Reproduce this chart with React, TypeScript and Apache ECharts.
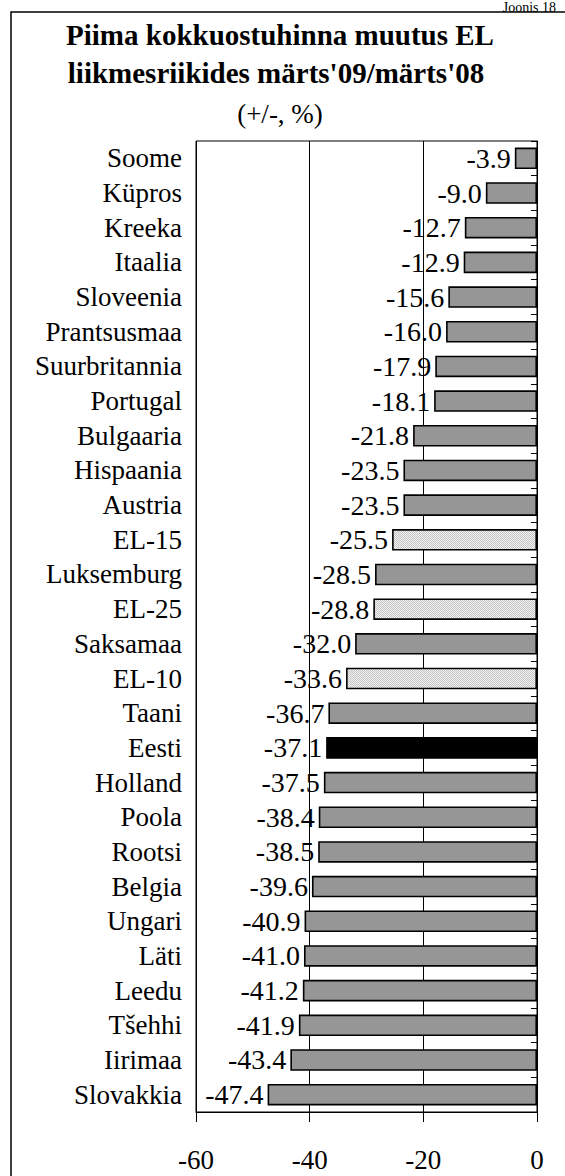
import React, { useEffect, useRef } from "react";
import * as echarts from "echarts";

const categories = [
  "Soome", "Küpros", "Kreeka", "Itaalia", "Sloveenia", "Prantsusmaa",
  "Suurbritannia", "Portugal", "Bulgaaria", "Hispaania", "Austria", "EL-15",
  "Luksemburg", "EL-25", "Saksamaa", "EL-10", "Taani", "Eesti", "Holland",
  "Poola", "Rootsi", "Belgia", "Ungari", "Läti", "Leedu", "Tšehhi",
  "Iirimaa", "Slovakkia",
];
const values = [
  -3.9, -9.0, -12.7, -12.9, -15.6, -16.0, -17.9, -18.1, -21.8, -23.5, -23.5,
  -25.5, -28.5, -28.8, -32.0, -33.6, -36.7, -37.1, -37.5, -38.4, -38.5,
  -39.6, -40.9, -41.0, -41.2, -41.9, -43.4, -47.4,
];
const aggregates = ["EL-15", "EL-25", "EL-10"];
const highlighted = ["Eesti"];
const xMin = -60;
const xMax = 0;
const xStep = 20;

const titleLines = ["Piima kokkuostuhinna muutus EL", "liikmesriikides märts'09/märts'08"];
const subtitle = "(+/-, %)";
const figureLabel = "Joonis 18";

const FONT = '"Liberation Serif", "Times New Roman", serif';

export default function App() {
  const ref = useRef<HTMLDivElement>(null);
  useEffect(() => {
    if (!ref.current) return;
    const chart = echarts.init(ref.current, undefined, { renderer: "svg" });

    const cv = document.createElement("canvas");
    cv.width = 2;
    cv.height = 2;
    const ctx = cv.getContext("2d");
    if (ctx) {
      ctx.fillStyle = "#f2f2f2";
      ctx.fillRect(0, 0, 2, 2);
      ctx.fillStyle = "#c4c4c4";
      ctx.fillRect(0, 0, 1, 1);
      ctx.fillRect(1, 1, 1, 1);
    }

    const data = categories.map((c, i) => {
      let color: any = "#969696";
      if (aggregates.includes(c)) color = { image: cv, repeat: "repeat" };
      if (highlighted.includes(c)) color = "#000000";
      return {
        value: values[i],
        itemStyle: { color, borderColor: "#000", borderWidth: 1.6 },
      };
    });

    chart.setOption({
      animation: false,
      backgroundColor: "#ffffff",
      grid: {
        left: 196,
        right: 28,
        top: 141,
        bottom: 64,
        show: true,
        borderColor: "#000",
        borderWidth: 1,
        containLabel: false,
      },
      xAxis: {
        type: "value",
        min: xMin,
        max: xMax,
        interval: xStep,
        position: "bottom",
        axisLine: { show: true, lineStyle: { color: "#000", width: 1 } },
        axisTick: { show: true, length: 10, lineStyle: { color: "#000", width: 1 } },
        axisLabel: { fontSize: 27, fontFamily: FONT, color: "#000", margin: 34 },
        splitLine: { show: true, lineStyle: { color: "#000", width: 1 } },
      },
      yAxis: [
        {
          type: "category",
          inverse: true,
          data: categories,
          position: "left",
          axisLine: { show: false, onZero: false },
          axisTick: { show: false },
          axisLabel: { interval: 0, fontSize: 27, fontFamily: FONT, color: "#000", margin: 14 },
          splitLine: { show: false },
        },
        {
          type: "category",
          inverse: true,
          data: categories,
          position: "right",
          axisLine: { show: true, onZero: false, lineStyle: { color: "#000", width: 1 } },
          axisTick: { show: true, inside: true, interval: 0, length: 6, lineStyle: { color: "#000", width: 1 } },
          axisLabel: { show: false },
          splitLine: { show: false },
        },
      ],
      series: [
        {
          type: "bar",
          yAxisIndex: 0,
          data,
          barCategoryGap: "38%",
          label: {
            show: true,
            position: "left",
            distance: 4,
            fontSize: 28,
            fontFamily: FONT,
            color: "#000",
            formatter: (p: any) => Number(p.value).toFixed(1),
          },
        },
      ],
      graphic: [
        {
          type: "rect",
          shape: { x: 11, y: 12, width: 700, height: 1400 },
          style: { fill: "none", stroke: "#000", lineWidth: 1.5 },
          silent: true,
        },
        {
          type: "text",
          x: 556,
          y: 0,
          style: {
            text: figureLabel,
            fontSize: 14,
            fontFamily: FONT,
            fill: "#000",
            align: "right",
            verticalAlign: "top",
          },
        },
        {
          type: "text",
          x: 280,
          y: 35,
          style: {
            text: titleLines[0],
            fontSize: 29,
            fontWeight: "bold",
            fontFamily: FONT,
            fill: "#000",
            align: "center",
            verticalAlign: "middle",
          },
        },
        {
          type: "text",
          x: 276,
          y: 73,
          style: {
            text: titleLines[1],
            fontSize: 29,
            fontWeight: "bold",
            fontFamily: FONT,
            fill: "#000",
            align: "center",
            verticalAlign: "middle",
          },
        },
        {
          type: "text",
          x: 280,
          y: 114,
          style: {
            text: subtitle,
            fontSize: 27,
            fontFamily: FONT,
            fill: "#000",
            align: "center",
            verticalAlign: "middle",
          },
        },
      ],
    });
    return () => chart.dispose();
  }, []);
  return (
    <div
      ref={ref}
      style={{ position: "fixed", left: 0, top: 0, width: 565, height: 1176, background: "#fff" }}
    />
  );
}
